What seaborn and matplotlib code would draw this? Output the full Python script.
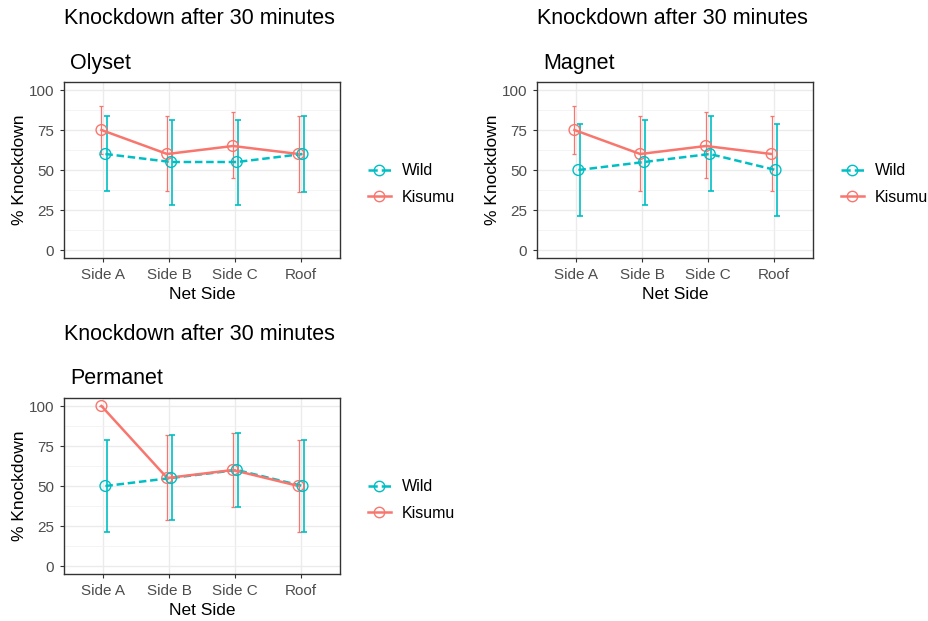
import seaborn as sns
import matplotlib.pyplot as plt
import matplotlib.lines as mlines
import pandas as pd

# net sides on the x axis
sides = ['Side A', 'Side B', 'Side C', 'Roof']
strains = ['Wild', 'Kisumu']

# % knockdown after 30 min, with 95% CI
olyset_wild = [60, 55, 55, 60]
olyset_wild_lo = [37, 28, 28, 36]
olyset_wild_hi = [84, 81, 81, 84]
olyset_kis = [75, 60, 65, 60]
olyset_kis_lo = [60, 37, 45, 36]
olyset_kis_hi = [90, 84, 86, 84]

magnet_wild = [50, 55, 60, 50]
magnet_wild_lo = [21, 28, 37, 21]
magnet_wild_hi = [79, 81, 84, 79]
magnet_kis = [75, 60, 65, 60]
magnet_kis_lo = [60, 37, 45, 37]
magnet_kis_hi = [90, 84, 86, 84]

perma_wild = [50, 55, 60, 50]
perma_wild_lo = [21, 29, 37, 21]
perma_wild_hi = [79, 82, 83, 79]
perma_kis = [100, 55, 60, 50]
perma_kis_lo = [100, 29, 37, 21]
perma_kis_hi = [100, 82, 83, 79]

nets = {
    'Olyset': (olyset_wild, olyset_wild_lo, olyset_wild_hi, olyset_kis, olyset_kis_lo, olyset_kis_hi),
    'Magnet': (magnet_wild, magnet_wild_lo, magnet_wild_hi, magnet_kis, magnet_kis_lo, magnet_kis_hi),
    'Permanet': (perma_wild, perma_wild_lo, perma_wild_hi, perma_kis, perma_kis_lo, perma_kis_hi),
}

colors = {'Wild': '#00BFC4', 'Kisumu': '#F8766D'}
dashes = {'Wild': (3, 1.5), 'Kisumu': ''}
dodge = {'Wild': 0.03, 'Kisumu': -0.03}

plt.rcParams['font.family'] = ['Liberation Sans', 'DejaVu Sans']

fig = plt.figure(figsize=(9.29, 6.21), dpi=100)
W, H = 929, 621

# left, top (pixels) for each panel's axes
panel_pos = {'Olyset': (64, 82), 'Magnet': (537, 82), 'Permanet': (64, 398)}
aw, ah = 276, 176


def make_df(vals):
    w, wlo, whi, k, klo, khi = vals
    rows = []
    for i, s in enumerate(sides):
        rows.append(dict(side=s, strain='Wild', pos=i + dodge['Wild'], pct=w[i], lo=wlo[i], hi=whi[i]))
        rows.append(dict(side=s, strain='Kisumu', pos=i + dodge['Kisumu'], pct=k[i], lo=klo[i], hi=khi[i]))
    return pd.DataFrame(rows)


for net, vals in nets.items():
    px, py = panel_pos[net]
    ax = fig.add_axes([px / W, 1 - (py + ah) / H, aw / W, ah / H])
    df = make_df(vals)

    # error bars: Kisumu thin, Wild with small caps, nudged right
    d = df[df.strain == 'Kisumu']
    ax.errorbar(d.pos, d.pct, yerr=[d.pct - d.lo, d.hi - d.pct], fmt='none',
                ecolor=colors['Kisumu'], elinewidth=0.9, capsize=1.5, capthick=0.9, zorder=2)
    d = df[df.strain == 'Wild']
    ax.errorbar(d.pos + 0.02, d.pct, yerr=[d.pct - d.lo, d.hi - d.pct], fmt='none',
                ecolor=colors['Wild'], elinewidth=1.2, capsize=2, capthick=1.2, zorder=2)

    sns.lineplot(data=df, x='pos', y='pct', hue='strain', hue_order=strains,
                 palette=colors, style='strain', style_order=strains, dashes=dashes,
                 linewidth=1.8, ax=ax, legend=False, zorder=3)
    for st in ['Kisumu', 'Wild']:
        d = df[df.strain == st]
        ax.scatter(d.pos, d.pct, s=60, facecolor='none', edgecolor=colors[st],
                   linewidth=1.0, zorder=4)

    ax.set_xlim(-0.6, 3.6)
    ax.set_ylim(-5, 105)
    ax.set_xticks(range(len(sides)))
    ax.set_xticklabels(sides)
    ax.set_yticks([0, 25, 50, 75, 100])
    ax.set_yticks([12.5, 37.5, 62.5, 87.5], minor=True)
    ax.grid(True, which='major', color='#EBEBEB', linewidth=1.0)
    ax.grid(True, which='minor', axis='y', color='#F2F2F2', linewidth=0.6)
    ax.set_axisbelow(True)
    for sp in ax.spines.values():
        sp.set_color('#333333')
        sp.set_linewidth(1.0)
    ax.tick_params(axis='both', which='major', length=3, color='#333333',
                   labelcolor='#4D4D4D', labelsize=11, pad=4)
    ax.tick_params(axis='both', which='minor', length=0)
    ax.set_xlabel('Net Side', fontsize=12.5, labelpad=4)
    ax.set_ylabel('% Knockdown', fontsize=12.5, labelpad=1)

    handles = [mlines.Line2D([], [], color=colors[st], marker='o', markerfacecolor='none',
                             markersize=7.5, linewidth=1.8,
                             linestyle='--' if st == 'Wild' else '-')
               for st in strains]
    ax.legend(handles, strains, loc='center left', bbox_to_anchor=(1.05, 0.42),
              frameon=False, fontsize=11.5, handlelength=1.4, handletextpad=0.7,
              labelspacing=0.75)

    fig.text(px / W, 1 - 18 / H - (py - 82) / H, 'Knockdown after 30 minutes',
             fontsize=15.5, va='center', ha='left')
    fig.text((px + 6) / W, 1 - 63 / H - (py - 82) / H, net,
             fontsize=15.5, va='center', ha='left')

fig.savefig('out.png', dpi=100)
